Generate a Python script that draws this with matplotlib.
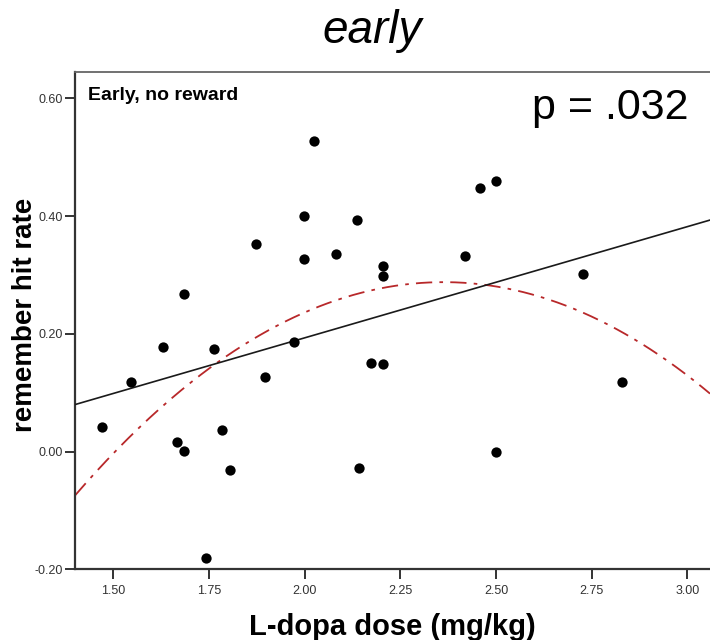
import numpy as np
import matplotlib
matplotlib.use("Agg")
import matplotlib.pyplot as plt

dose = [1.470, 1.546, 1.629, 1.667, 1.684, 1.684, 1.743, 1.763, 1.784, 1.805,
        1.874, 1.897, 1.971, 1.998, 1.998, 2.025, 2.083, 2.138, 2.142, 2.173,
        2.205, 2.205, 2.205, 2.419, 2.458, 2.500, 2.500, 2.727, 2.829]
hit_rate = [0.042, 0.118, 0.177, 0.016, 0.001, 0.268, -0.181, 0.174, 0.037, -0.032,
            0.353, 0.126, 0.186, 0.400, 0.328, 0.527, 0.336, 0.394, -0.028, 0.151,
            0.316, 0.299, 0.149, 0.332, 0.448, 0.460, 0.000, 0.302, 0.118]
xticks = [1.50, 1.75, 2.00, 2.25, 2.50, 2.75, 3.00]
yticks = [-0.20, 0.00, 0.20, 0.40, 0.60]

plt.rcParams['font.family'] = ['Liberation Sans', 'DejaVu Sans']

fig = plt.figure(figsize=(7.1, 6.4), dpi=100)
ax = fig.add_axes([75/710, 70.7/640, 1 - 75/710, (569.3-72)/640])

x = np.array(dose)
y = np.array(hit_rate)
xl = (1.40, 3.059)
xs = np.linspace(xl[0], xl[1], 300)
lin = np.polyfit(x, y, 1)
quad = np.polyfit(x, y, 2)

ax.plot(xs, np.polyval(quad, xs), color='#b8282a', lw=1.3,
        dashes=(9, 4, 2, 4), zorder=2)
ax.plot(xs, np.polyval(lin, xs), color='#1a1a1a', lw=1.2, zorder=3)
ax.scatter(x, y, s=55, color='black', zorder=4, linewidths=0)

ax.set_xlim(*xl)
ax.set_ylim(-0.20, 0.645)
ax.set_xticks(xticks)
ax.set_xticklabels([f"{t:.2f}" for t in xticks])
ax.set_yticks(yticks)
ax.set_yticklabels([f"{t:.2f}" for t in yticks])
ax.tick_params(axis='both', direction='out', length=7, width=1.4,
               color='#333333', labelsize=9, labelcolor='#333333')
ax.tick_params(axis='y', pad=1.5)
ax.tick_params(axis='x', pad=4)

for s in ['left', 'bottom']:
    ax.spines[s].set_color('#333333')
    ax.spines[s].set_linewidth(1.6)
ax.spines['top'].set_color('#666666')
ax.spines['top'].set_linewidth(1.3)
ax.spines['right'].set_visible(False)

ax.set_xlabel('L-dopa dose (mg/kg)', fontsize=21, fontweight='bold', labelpad=12)
ax.set_ylabel('remember hit rate', fontsize=20, fontweight='bold')
ax.yaxis.set_label_coords((38 - 75) / 635, 0.512)

fig.text(88/710, (640 - 96)/640, 'Early, no reward', fontsize=14, fontweight='bold',
         va='center', ha='left')
fig.text(688/710, (640 - 108)/640, 'p = .032', fontsize=31, ha='right', va='center')
fig.text(372/710, (640 - 31)/640, 'early', fontsize=33, style='italic',
         ha='center', va='center')

fig.savefig('out.png', dpi=100)
